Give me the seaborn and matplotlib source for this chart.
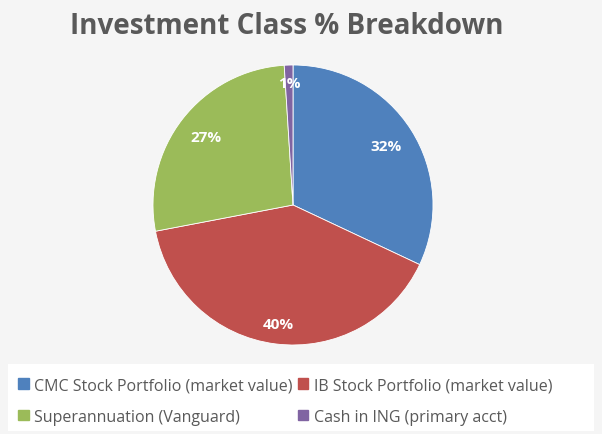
import matplotlib
matplotlib.use("Agg")
import matplotlib.pyplot as plt
import matplotlib.patches as mpatches
import numpy as np
import seaborn as sns

categories = ["CMC Stock Portfolio (market value)", "IB Stock Portfolio (market value)",
              "Superannuation (Vanguard)", "Cash in ING (primary acct)"]
values = [32, 40, 27, 1]
colors = ["#4F81BD", "#C0504D", "#9BBB59", "#8064A2"]
title = "Investment Class % Breakdown"

sns.set_theme(style="white")
plt.rcParams['font.family'] = ['Open Sans', 'DejaVu Sans']
palette = sns.color_palette(colors)

fig = plt.figure(figsize=(6.02, 4.35), dpi=100)
fig.patch.set_facecolor("#F5F5F5")

# legend background box
fig.patches.append(mpatches.Rectangle((8/602, 3/435), 586/602, 67/435, transform=fig.transFigure,
                                      facecolor="white", edgecolor="none", zorder=0))

ax = fig.add_axes([153/602, 89/435, 280/602, 280/435])
wedges, texts, autotexts = ax.pie(values, colors=palette, startangle=90, counterclock=False,
                                  autopct=lambda p: f"{p:.0f}%", pctdistance=0.82,
                                  wedgeprops=dict(linewidth=0.6, edgecolor="white"),
                                  textprops=dict(color="white", fontsize=11, fontweight="bold"))
dists = [0.79, 0.86, 0.79, 0.87]
for w, t, d in zip(wedges, autotexts, dists):
    ang = np.deg2rad((w.theta1 + w.theta2) / 2)
    t.set_position((d * np.cos(ang), d * np.sin(ang)))
ax.set_aspect("equal")
ax.set_xlim(-1, 1)
ax.set_ylim(-1, 1)

fig.text(287/602, 1 - 26/435, title, ha="center", va="center", fontsize=20,
         fontweight="bold", color="#595959")

order = [0, 2, 1, 3]
handles = [mpatches.Patch(color=palette[i]) for i in order]
labels = [categories[i] for i in order]
leg = fig.legend(handles, labels, ncol=2, loc="upper left",
                 bbox_to_anchor=(4/602, 1 - 364/435), frameon=False,
                 fontsize=11.5, handlelength=0.65, handleheight=0.65, handletextpad=0.35,
                 columnspacing=0.3, labelspacing=0.95, labelcolor="#595959")

fig.savefig("out.png", dpi=100, facecolor=fig.get_facecolor())
